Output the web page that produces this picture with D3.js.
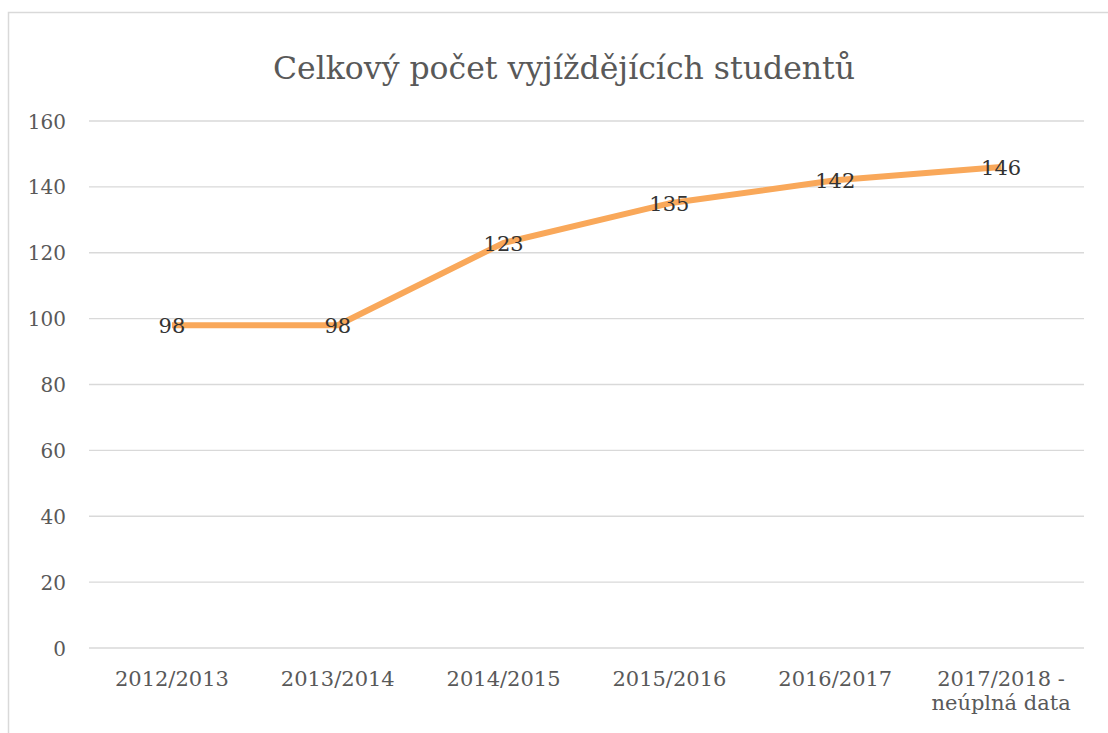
<!DOCTYPE html>
<html>
<head>
<meta charset="utf-8">
<script src="https://cdn.jsdelivr.net/npm/d3@7"></script>
<style>
  body { margin: 0; background: #fff; }
  text { font-family: "DejaVu Serif", "Liberation Serif", serif; }
</style>
</head>
<body>
<div id="chart"></div>
<script>
// chart data
const years = ["2012/2013", "2013/2014", "2014/2015", "2015/2016", "2016/2017", "2017/2018 -|neúplná data"];
const students = [98, 98, 123, 135, 142, 146];
const yTicks = [0, 20, 40, 60, 80, 100, 120, 140, 160];
const title = "Celkový počet vyjíždějících studentů";

const width = 1108, height = 733;
const margin = { top: 121, right: 24, bottom: 85, left: 89 };

const svg = d3.select("#chart").append("svg")
    .attr("width", width)
    .attr("height", height);

// chart area border (cut off at right and bottom)
svg.append("rect")
    .attr("x", 8.5).attr("y", 12.5)
    .attr("width", width + 20).attr("height", height + 20)
    .attr("fill", "none")
    .attr("stroke", "#d9d9d9")
    .attr("stroke-width", 1.5);

// title
svg.append("text")
    .attr("x", 564).attr("y", 79)
    .attr("text-anchor", "middle")
    .attr("fill", "#595959")
    .style("font-size", "31.5px")
    .text(title);

let x = d3.scaleBand()
    .domain(years)
    .range([margin.left, width - margin.right]);

let y = d3.scaleLinear()
    .domain([0, 160])
    .range([height - margin.bottom, margin.top]);

// gridlines
svg.append("g")
    .selectAll("line")
    .data(yTicks)
    .enter().append("line")
    .attr("x1", margin.left).attr("x2", width - margin.right)
    .attr("y1", d => y(d)).attr("y2", d => y(d))
    .attr("stroke", "#d9d9d9")
    .attr("stroke-width", 1.3);

// y axis labels
let yAxis = d3.axisLeft(y).tickValues(yTicks).tickSize(0).tickPadding(0);
let yg = svg.append("g")
    .attr("transform", `translate(${margin.left - 23},0)`)
    .call(yAxis);
yg.select(".domain").remove();
yg.selectAll("text")
    .attr("fill", "#595959")
    .style("font-size", "20px")
    .attr("dy", "0.35em");

// x axis labels (multi-line)
let xg = svg.append("g")
    .attr("transform", `translate(0,${height - margin.bottom})`);
xg.selectAll("text")
    .data(years)
    .enter().append("text")
    .attr("x", d => x(d) + x.bandwidth() / 2)
    .attr("y", 38)
    .attr("text-anchor", "middle")
    .attr("fill", "#595959")
    .style("font-size", "21px")
    .each(function (d) {
        let parts = d.split("|");
        d3.select(this).selectAll("tspan")
            .data(parts)
            .enter().append("tspan")
            .attr("x", x(d) + x.bandwidth() / 2)
            .attr("dy", (p, i) => i === 0 ? 0 : 24)
            .text(p => p);
    });

// line
let line = d3.line()
    .x((d, i) => x(years[i]) + x.bandwidth() / 2)
    .y(d => y(d));

svg.append("path")
    .datum(students)
    .attr("d", line)
    .attr("fill", "none")
    .attr("stroke", "#f9a85a")
    .attr("stroke-width", 6)
    .attr("stroke-linejoin", "round");

// data labels centred on the points
svg.append("g")
    .selectAll("text")
    .data(students)
    .enter().append("text")
    .attr("x", (d, i) => x(years[i]) + x.bandwidth() / 2)
    .attr("y", d => y(d))
    .attr("dy", "0.38em")
    .attr("text-anchor", "middle")
    .attr("fill", "#333333")
    .style("font-size", "21px")
    .text(d => d);
</script>
</body>
</html>
